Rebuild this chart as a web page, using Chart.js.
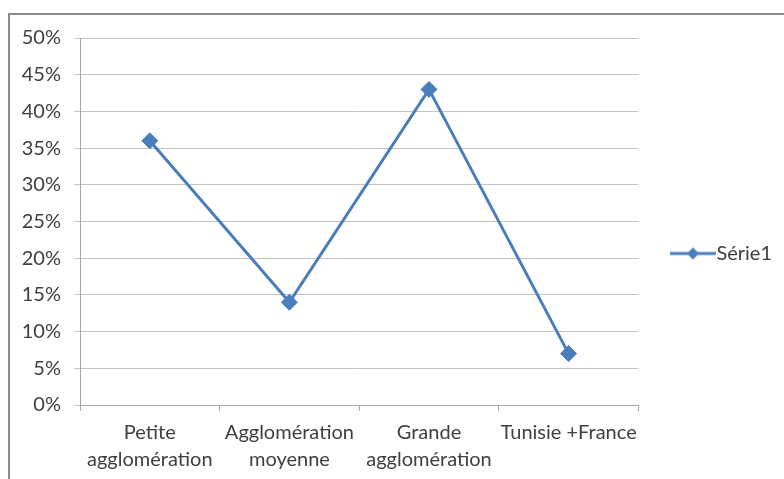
<!DOCTYPE html>
<html>
<head>
<meta charset="utf-8">
<script src="https://cdn.jsdelivr.net/npm/chart.js@4"></script>
<style>
  html, body { margin: 0; padding: 0; background: #ffffff; }
  #wrap { position: relative; width: 784px; height: 479px; overflow: hidden; }
  #frame { position: absolute; left: 8px; top: 13px; width: 820px; height: 520px; border: 2px solid #8c8c8c; box-sizing: border-box; }
  canvas { position: absolute; left: 0; top: 0; }
</style>
</head>
<body>
<div id="wrap">
  <div id="frame"></div>
  <canvas id="c" width="784" height="479"></canvas>
</div>
<script>
const categories = [
  ['Petite', 'agglomération'],
  ['Agglomération', 'moyenne'],
  ['Grande', 'agglomération'],
  ['Tunisie +France']
];
const seriesName = 'Série1';
const seriesValues = [36, 14, 43, 7];
const yTickMin = 0;
const yTickMax = 50;
const yTickStep = 5;

const BLUE = '#4a7ebb';
const TEXT = '#404040';
const FONT = 'Lato, "Liberation Sans", sans-serif';

// legend symbol: line with a diamond
const legendImg = document.createElement('canvas');
legendImg.width = 46; legendImg.height = 16;
(function () {
  const g = legendImg.getContext('2d');
  g.strokeStyle = BLUE; g.lineWidth = 3;
  g.beginPath(); g.moveTo(0, 8); g.lineTo(46, 8); g.stroke();
  g.fillStyle = BLUE;
  g.beginPath(); g.moveTo(23, 2); g.lineTo(29, 8); g.lineTo(23, 14); g.lineTo(17, 8); g.closePath(); g.fill();
})();

new Chart(document.getElementById('c'), {
  type: 'line',
  data: {
    labels: categories,
    datasets: [{
      label: seriesName,
      data: seriesValues,
      borderColor: BLUE,
      backgroundColor: BLUE,
      borderWidth: 3,
      pointStyle: 'rectRot',
      pointRadius: 8,
      pointHoverRadius: 8,
      pointBackgroundColor: BLUE,
      pointBorderColor: BLUE,
      pointBorderWidth: 1,
      tension: 0,
      fill: false
    }]
  },
  options: {
    responsive: false,
    animation: false,
    layout: { padding: { left: 10, top: 38, right: 2, bottom: 10 } },
    plugins: {
      tooltip: { enabled: false },
      legend: {
        position: 'right',
        align: 'center',
        maxWidth: 144,
        labels: {
          usePointStyle: true,
          pointStyleWidth: 27,
          padding: 41,
          color: TEXT,
          font: { family: FONT, size: 20 },
          generateLabels: (chart) => {
            const items = Chart.defaults.plugins.legend.labels.generateLabels(chart);
            items.forEach(it => { it.pointStyle = legendImg; });
            return items;
          }
        }
      }
    },
    scales: {
      x: {
        offset: true,
        afterFit: (s) => { s.height = 64; },
        grid: {
          offset: true,
          drawOnChartArea: false,
          drawTicks: true,
          tickLength: 6,
          color: '#a6a6a6'
        },
        border: { color: '#a6a6a6', width: 1 },
        ticks: {
          autoSkip: false,
          maxRotation: 0,
          minRotation: 0,
          padding: 8,
          color: TEXT,
          font: { family: FONT, size: 20, lineHeight: 1.35 }
        }
      },
      y: {
        min: yTickMin,
        max: yTickMax,
        afterFit: (s) => { s.width = 70; },
        grid: {
          color: '#c4c4c4',
          lineWidth: 1,
          drawTicks: true,
          tickLength: 6
        },
        border: { color: '#a6a6a6', width: 1 },
        ticks: {
          stepSize: yTickStep,
          padding: 13,
          color: TEXT,
          font: { family: FONT, size: 20 },
          callback: (v) => v + '%'
        }
      }
    }
  }
});
</script>
</body>
</html>
